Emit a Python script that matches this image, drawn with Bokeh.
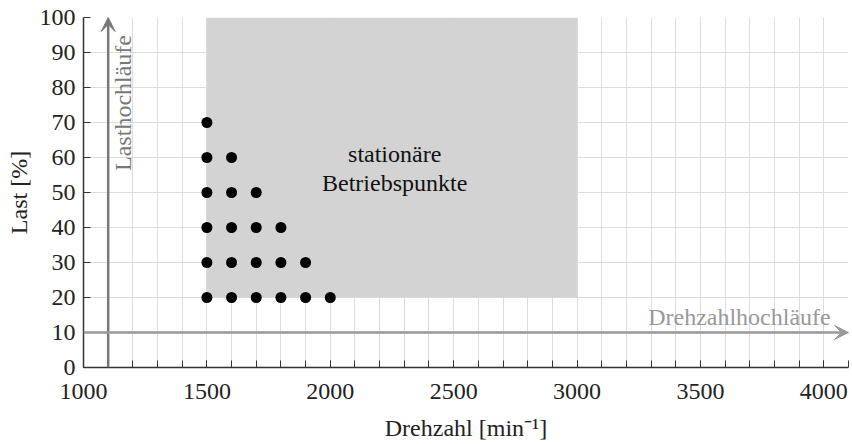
from bokeh.plotting import figure
from bokeh.models import FixedTicker, Arrow, VeeHead, Label
from bokeh.core.properties import value
from bokeh.embed import file_html
from bokeh.resources import INLINE
import math

# Data
points_speed = [1500, 1500, 1500, 1500, 1500, 1500,
                1600, 1600, 1600, 1600, 1600,
                1700, 1700, 1700, 1700,
                1800, 1800, 1800,
                1900, 1900,
                2000]
points_load = [20, 30, 40, 50, 60, 70,
               20, 30, 40, 50, 60,
               20, 30, 40, 50,
               20, 30, 40,
               20, 30,
               20]
region_speed = [1500, 3000]
region_load = [20, 100]
x_ticks = [1000, 1500, 2000, 2500, 3000, 3500, 4000]
x_minor = list(range(1000, 4101, 100))
y_ticks = [0, 10, 20, 30, 40, 50, 60, 70, 80, 90, 100]
x_range = (1000, 4100)
y_range = (0, 100)
speed_sweep_load = 10
load_sweep_speed = 1100

FONT = "Liberation Serif"

p = figure(width=852, height=444, output_backend="svg", toolbar_location=None,
           x_range=x_range, y_range=y_range,
           min_border_left=83, min_border_right=4, min_border_top=17, min_border_bottom=77)
p.outline_line_color = None
p.background_fill_color = "white"

# grids
p.xgrid.ticker = FixedTicker(ticks=x_ticks, minor_ticks=x_minor)
p.xgrid.grid_line_color = "#dddddd"
p.xgrid.minor_grid_line_color = "#dddddd"
p.ygrid.ticker = FixedTicker(ticks=y_ticks)
p.ygrid.grid_line_color = "#dddddd"

# axes
for ax in (p.xaxis[0], p.yaxis[0]):
    ax.axis_line_color = "#333333"
    ax.axis_line_width = 1.5
    ax.major_tick_line_color = "#333333"
    ax.minor_tick_line_color = "#333333"
    ax.major_tick_in = 7
    ax.major_tick_out = 0
    ax.minor_tick_in = 7
    ax.minor_tick_out = 0
    ax.major_label_text_font = FONT
    ax.major_label_text_font_size = "24px"
    ax.major_label_text_color = "#222222"
    ax.axis_label_text_font = FONT
    ax.axis_label_text_font_size = "24px"
    ax.axis_label_text_font_style = "normal"
    ax.axis_label_text_color = "#222222"

p.xaxis[0].ticker = FixedTicker(ticks=x_ticks, minor_ticks=x_minor)
p.yaxis[0].ticker = FixedTicker(ticks=y_ticks)
p.yaxis[0].minor_tick_line_color = None
p.xaxis[0].major_label_standoff = 16
p.yaxis[0].major_label_standoff = 8
p.xaxis[0].axis_label = "Drehzahl [min\u207b\u00b9]"
p.yaxis[0].axis_label = "Last [%]"
p.xaxis[0].axis_label_standoff = 13
p.yaxis[0].axis_label_standoff = 5

# stationary region
p.quad(left=[region_speed[0]], right=[region_speed[1]],
       bottom=[region_load[0]], top=[region_load[1]],
       fill_color="#d3d3d3", line_color=None)

# points
p.scatter(points_speed, points_load, size=11, fill_color="black", line_color=None)

# text in region
p.text(x=[2261, 2261], y=[61.0, 52.8], text=["stationäre", "Betriebspunkte"],
       text_font=value(FONT), text_font_size="24px", text_align="center",
       text_baseline="alphabetic", text_color="#111111")

# arrows
p.add_layout(Arrow(x_start=load_sweep_speed, y_start=y_range[0],
                   x_end=load_sweep_speed, y_end=y_range[1],
                   line_color="#777777", line_width=2.5,
                   end=VeeHead(size=14, fill_color="#777777", line_color="#777777")))
p.add_layout(Arrow(x_start=x_range[0], y_start=speed_sweep_load,
                   x_end=x_range[1], y_end=speed_sweep_load,
                   line_color="#999999", line_width=2.5,
                   end=VeeHead(size=14, fill_color="#999999", line_color="#999999")))

p.add_layout(Label(x=1162, y=95, text="Lasthochläufe", angle=math.pi / 2,
                   text_align="right", text_baseline="alphabetic",
                   text_font=FONT, text_font_size="24px", text_color="#777777"))
p.add_layout(Label(x=4028, y=14.5, text="Drehzahlhochläufe",
                   text_align="right", text_baseline="alphabetic",
                   text_font=FONT, text_font_size="24px", text_color="#999999"))

open("out.html", "w").write(file_html(p, INLINE))
